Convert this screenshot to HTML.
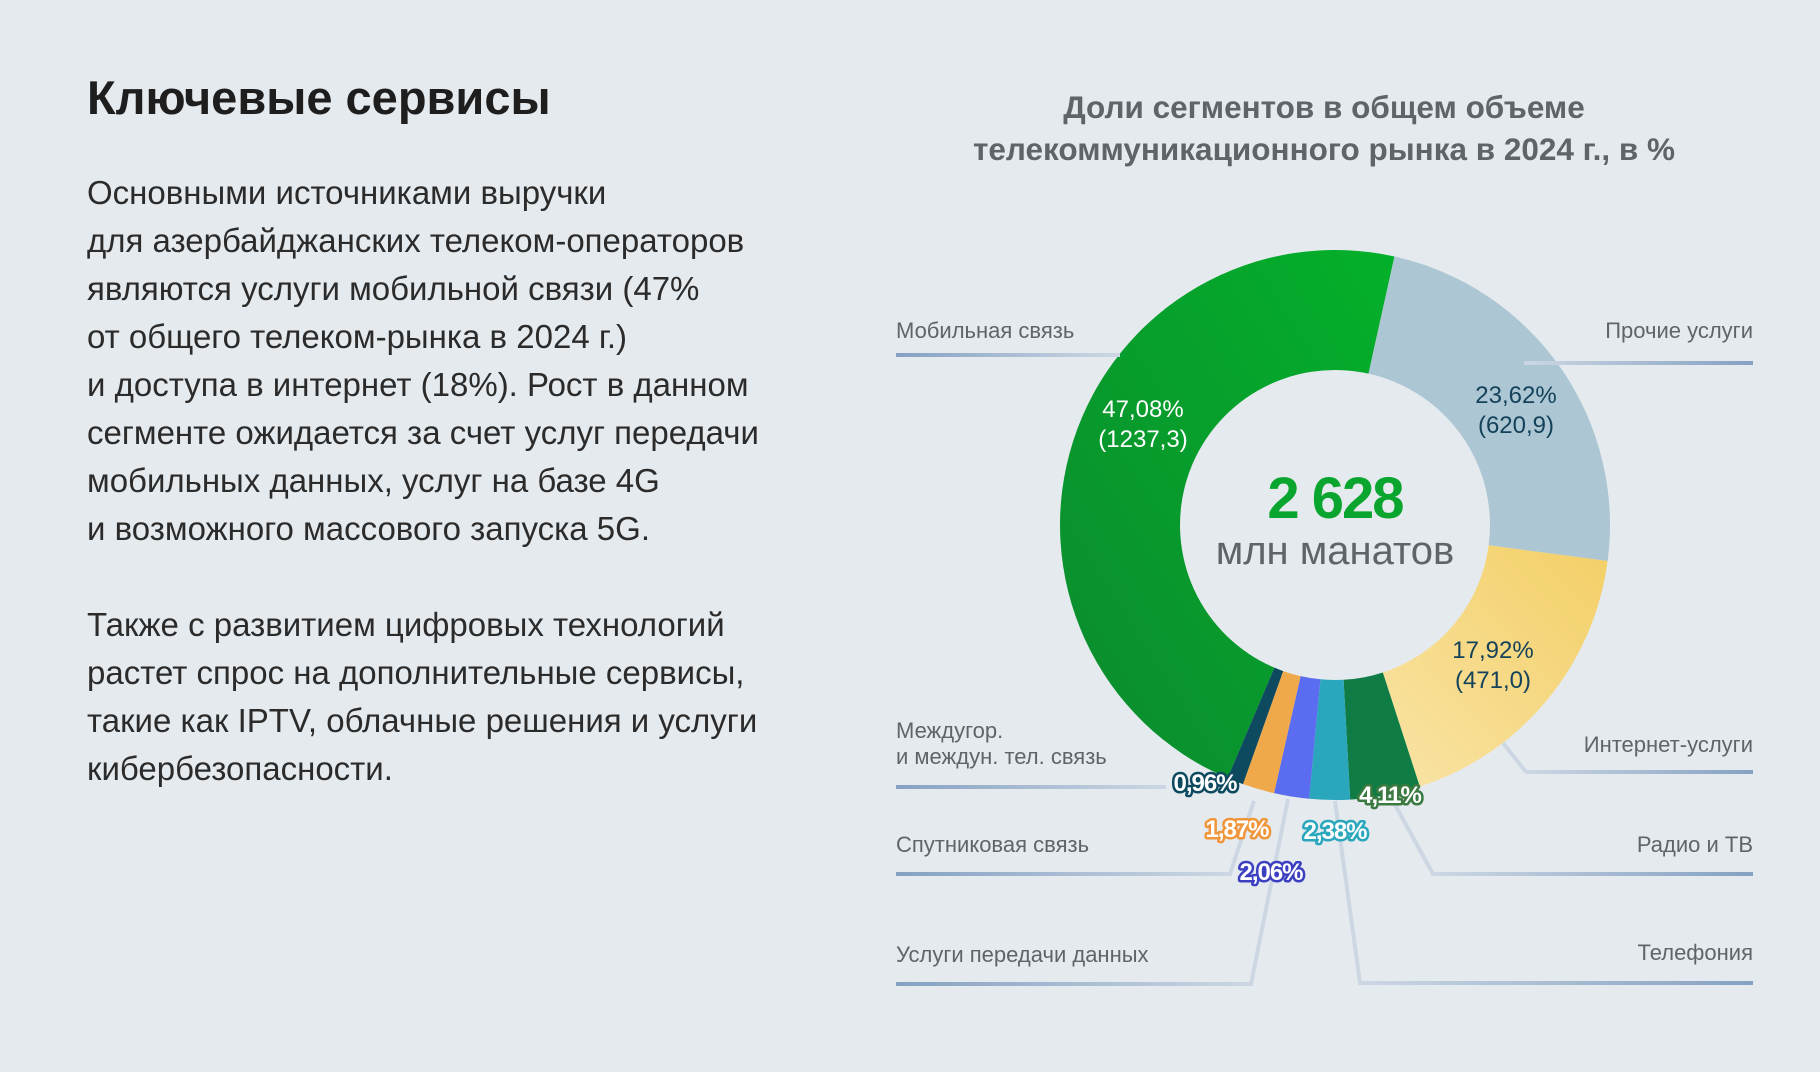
<!DOCTYPE html>
<html><head><meta charset="utf-8"><style>
body{margin:0;width:1820px;height:1072px;background:#e5eaee;font-family:"Liberation Sans",sans-serif;overflow:hidden}
.h{position:absolute;left:87px;top:70px;font-size:47px;font-weight:bold;color:#1e1e1e}
.p{position:absolute;left:87px;font-size:33px;line-height:48px;color:#2b2b2b}
</style></head><body>
<div class="h">Ключевые сервисы</div>
<div class="p" style="top:169px">Основными источниками выручки<br>для азербайджанских телеком-операторов<br>являются услуги мобильной связи (47%<br>от общего телеком-рынка в 2024 г.)<br>и доступа в интернет (18%). Рост в данном<br>сегменте ожидается за счет услуг передачи<br>мобильных данных, услуг на базе 4G<br>и возможного массового запуска 5G.</div>
<div class="p" style="top:601px">Также с развитием цифровых технологий<br>растет спрос на дополнительные сервисы,<br>такие как IPTV, облачные решения и услуги<br>кибербезопасности.</div>
<svg width="1820" height="1072" style="position:absolute;left:0;top:0" font-family="Liberation Sans, sans-serif">
<defs>
<linearGradient id="gm" x1="0" y1="1" x2="1" y2="0"><stop offset="0" stop-color="#0b8a2e"/><stop offset="1" stop-color="#03b02a"/></linearGradient>
<linearGradient id="gi" x1="1" y1="0" x2="0" y2="1"><stop offset="0" stop-color="#f4cf66"/><stop offset="1" stop-color="#f9e4a6"/></linearGradient>
<linearGradient id="gl" x1="0" x2="1"><stop offset="0" stop-color="#85a1c2"/><stop offset="1" stop-color="#ccd7e3"/></linearGradient>
<linearGradient id="gr" x1="1" x2="0"><stop offset="0" stop-color="#85a1c2"/><stop offset="1" stop-color="#ccd7e3"/></linearGradient>
</defs>
<g id="donut"></g>
<text x="1324" y="118" text-anchor="middle" font-size="31.5" font-weight="bold" fill="#606468">Доли сегментов в общем объеме</text>
<text x="1324" y="160" text-anchor="middle" font-size="31.5" font-weight="bold" fill="#606468">телекоммуникационного рынка в 2024 г., в %</text>
<text x="1335" y="518" text-anchor="middle" font-size="58" font-weight="bold" fill="#0aa52e" letter-spacing="-2">2 628</text>
<text x="1335" y="564" text-anchor="middle" font-size="40" fill="#606468">млн манатов</text>
<g font-size="24" text-anchor="middle">
<text x="1143" y="417" fill="#fff">47,08%</text><text x="1143" y="447" fill="#fff">(1237,3)</text>
<text x="1516" y="403" fill="#14425a">23,62%</text><text x="1516" y="433" fill="#14425a">(620,9)</text>
<text x="1493" y="658" fill="#14425a">17,92%</text><text x="1493" y="688" fill="#14425a">(471,0)</text>
</g>
<g fill="none" stroke-width="4" stroke="#ccd7e3">
<path d="M1114 355H1120"/>
<path d="M1503 743L1526 772"/>
<path d="M1254 801L1230 874"/>
<path d="M1393 801L1433 874"/>
<path d="M1288 799L1251 984"/>
<path d="M1335 801L1360 983"/>
</g>
<rect x="896" y="353" width="220" height="4" fill="url(#gl)"/>
<rect x="1524" y="361" width="229" height="4" fill="url(#gr)"/>
<rect x="1526" y="770" width="227" height="4" fill="url(#gr)"/>
<rect x="896" y="785" width="270" height="4" fill="url(#gl)"/>
<rect x="896" y="872" width="336" height="4" fill="url(#gl)"/>
<rect x="1431" y="872" width="322" height="4" fill="url(#gr)"/>
<rect x="896" y="982" width="357" height="4" fill="url(#gl)"/>
<rect x="1358" y="981" width="395" height="4" fill="url(#gr)"/>
<g font-size="22" fill="#606468">
<text x="896" y="338">Мобильная связь</text>
<text x="1753" y="338" text-anchor="end">Прочие услуги</text>
<text x="1753" y="752" text-anchor="end">Интернет-услуги</text>
<text x="896" y="738">Междугор.</text><text x="896" y="764">и междун. тел. связь</text>
<text x="896" y="852">Спутниковая связь</text>
<text x="1753" y="852" text-anchor="end">Радио и ТВ</text>
<text x="896" y="962">Услуги передачи данных</text>
<text x="1753" y="960" text-anchor="end">Телефония</text>
</g>
<g font-size="24" font-weight="bold" text-anchor="middle" fill="#fff" stroke-width="5" paint-order="stroke" stroke-linejoin="round" letter-spacing="-1">
<text x="1205" y="791" stroke="#0d4a5f">0,96%</text>
<text x="1237" y="837" stroke="#f0963a">1,87%</text>
<text x="1335" y="839" stroke="#2aa7bc">2,38%</text>
<text x="1271" y="880" stroke="#3c40c0">2,06%</text>
<text x="1390" y="803" stroke="#3a7a40">4,11%</text>
</g>
</svg>
<script>
var cx=1335,cy=525,R=275,r=155;
var segs=[[47.08,"url(#gm)"],[23.62,"#adc6d3"],[17.92,"url(#gi)"],[4.11,"#0e7c44"],[2.38,"#2aa7bc"],[2.06,"#5a6cf0"],[1.87,"#f0a94a"],[0.96,"#0d4a5f"]];
var a=-157, g=document.getElementById("donut"), s="";
function pt(rad,deg){var t=(deg-90)*Math.PI/180;return (cx+rad*Math.cos(t)).toFixed(2)+" "+(cy+rad*Math.sin(t)).toFixed(2);}
segs.forEach(function(x){var b=a+x[0]*3.6;var l=x[0]>50?1:0;
s+='<path fill="'+x[1]+'" d="M'+pt(R,a)+' A'+R+' '+R+' 0 '+l+' 1 '+pt(R,b)+' L'+pt(r,b)+' A'+r+' '+r+' 0 '+l+' 0 '+pt(r,a)+'Z"/>';a=b;});
g.innerHTML=s;
</script>
</body></html>
